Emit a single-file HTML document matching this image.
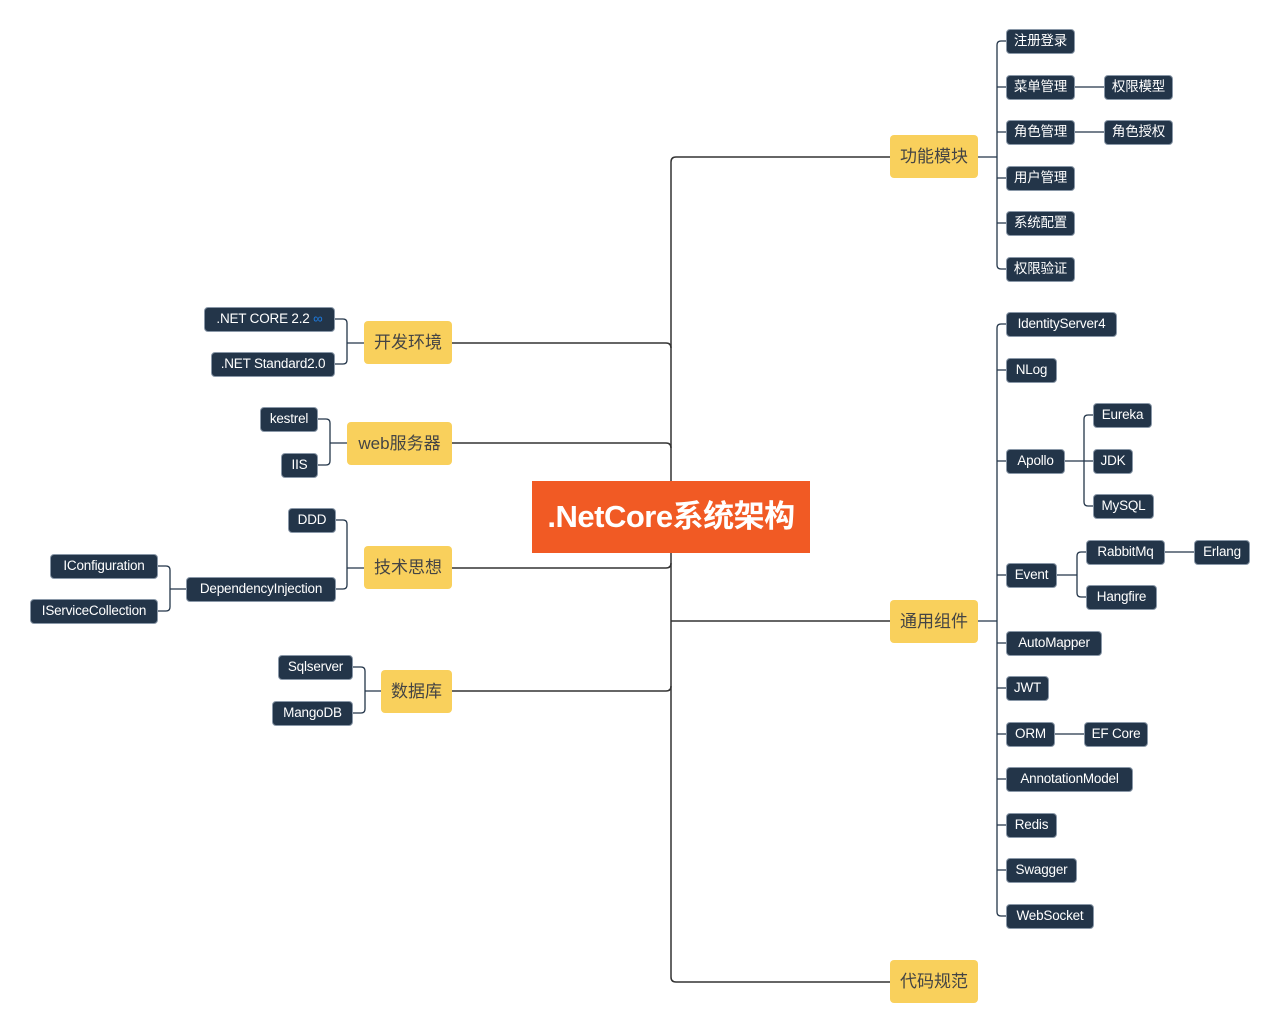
<!DOCTYPE html>
<html><head><meta charset="utf-8"><style>
body{margin:0;width:1281px;height:1034px;background:#fff;position:relative;overflow:hidden;font-family:"Liberation Sans","Noto Sans CJK SC",sans-serif}
.d{position:absolute;height:25px;line-height:22px;background:#233549;color:#fff;font-size:13.5px;text-align:center;border-radius:4px;white-space:nowrap;box-sizing:border-box;border:1px solid #8a98a8;letter-spacing:-0.2px}
.y{position:absolute;height:43px;line-height:43px;background:#f9d05c;color:#444;font-size:17px;text-align:center;border-radius:4px;white-space:nowrap}
.c{position:absolute;left:532px;top:481px;width:278px;height:72px;line-height:72px;background:#f15a24;color:#fff;font-size:31px;font-weight:bold;text-align:center;letter-spacing:-0.5px}
svg{position:absolute;left:0;top:0}
</style></head><body>
<svg width="1281" height="1034" fill="none">
<g stroke="#333" stroke-width="1.5">
<path d="M890 157H676Q671 157 671 162V977Q671 982 676 982H890"/>
<path d="M671 621H890"/>
<path d="M452 343H666Q671 343 671 348"/>
<path d="M452 443H666Q671 443 671 448"/>
<path d="M452 568H666Q671 568 671 563"/>
<path d="M452 691H666Q671 691 671 686"/>
</g>
<g stroke="#233549" stroke-width="1.3">
<path d="M978 157H997M1006 41H1001Q997 41 997 45V265Q997 269 1001 269H1006M997 87H1006M997 132H1006M997 178H1006M997 223H1006"/>
<path d="M1075 87H1104M1075 132H1104"/>
<path d="M978 621H997M1006 324H1001Q997 324 997 328V912Q997 916 1001 916H1006M997 370H1006M997 461H1006M997 575H1006M997 643H1006M997 688H1006M997 734H1006M997 779H1006M997 825H1006M997 870H1006"/>
<path d="M1065 461H1084M1093 415H1088Q1084 415 1084 419V502Q1084 506 1088 506H1093M1084 461H1093"/>
<path d="M1057 575H1077M1086 552H1081Q1077 552 1077 556V593Q1077 597 1081 597H1086"/>
<path d="M1165 552H1194M1055 734H1084"/>
<path d="M364 343H347M335 319H343Q347 319 347 323V360Q347 364 343 364H335"/>
<path d="M347 443H330M318 419H326Q330 419 330 423V461Q330 465 326 465H318"/>
<path d="M364 568H347M336 520H343Q347 520 347 524V585Q347 589 343 589H336"/>
<path d="M186 589H170M158 566H166Q170 566 170 570V607Q170 611 166 611H158"/>
<path d="M381 691H365M353 667H361Q365 667 365 671V709Q365 713 361 713H353"/>
</g>
</svg>
<div class="c">.NetCore系统架构</div>
<div class="y" style="left:890px;top:135px;width:88px">功能模块</div>
<div class="y" style="left:890px;top:600px;width:88px">通用组件</div>
<div class="y" style="left:890px;top:960px;width:88px">代码规范</div>
<div class="y" style="left:364px;top:321px;width:88px">开发环境</div>
<div class="y" style="left:347px;top:422px;width:105px">web服务器</div>
<div class="y" style="left:364px;top:546px;width:88px">技术思想</div>
<div class="y" style="left:381px;top:670px;width:71px">数据库</div>

<div class="d" style="left:1006px;top:29px;width:69px">注册登录</div>
<div class="d" style="left:1006px;top:75px;width:69px">菜单管理</div>
<div class="d" style="left:1006px;top:120px;width:69px">角色管理</div>
<div class="d" style="left:1006px;top:166px;width:69px">用户管理</div>
<div class="d" style="left:1006px;top:211px;width:69px">系统配置</div>
<div class="d" style="left:1006px;top:257px;width:69px">权限验证</div>
<div class="d" style="left:1104px;top:75px;width:69px">权限模型</div>
<div class="d" style="left:1104px;top:120px;width:69px">角色授权</div>

<div class="d" style="left:1006px;top:312px;width:111px">IdentityServer4</div>
<div class="d" style="left:1006px;top:358px;width:51px">NLog</div>
<div class="d" style="left:1006px;top:449px;width:59px">Apollo</div>
<div class="d" style="left:1093px;top:403px;width:59px">Eureka</div>
<div class="d" style="left:1093px;top:449px;width:40px">JDK</div>
<div class="d" style="left:1093px;top:494px;width:61px">MySQL</div>
<div class="d" style="left:1006px;top:563px;width:51px">Event</div>
<div class="d" style="left:1086px;top:540px;width:79px">RabbitMq</div>
<div class="d" style="left:1194px;top:540px;width:56px">Erlang</div>
<div class="d" style="left:1086px;top:585px;width:71px">Hangfire</div>
<div class="d" style="left:1006px;top:631px;width:96px">AutoMapper</div>
<div class="d" style="left:1006px;top:676px;width:43px">JWT</div>
<div class="d" style="left:1006px;top:722px;width:49px">ORM</div>
<div class="d" style="left:1084px;top:722px;width:64px">EF Core</div>
<div class="d" style="left:1006px;top:767px;width:127px">AnnotationModel</div>
<div class="d" style="left:1006px;top:813px;width:51px">Redis</div>
<div class="d" style="left:1006px;top:858px;width:71px">Swagger</div>
<div class="d" style="left:1006px;top:904px;width:88px">WebSocket</div>

<div class="d" style="left:204px;top:307px;width:131px">.NET CORE 2.2 <span style="color:#1e7be0">∞</span></div>
<div class="d" style="left:211px;top:352px;width:124px">.NET Standard2.0</div>
<div class="d" style="left:260px;top:407px;width:58px">kestrel</div>
<div class="d" style="left:281px;top:453px;width:37px">IIS</div>
<div class="d" style="left:288px;top:508px;width:48px">DDD</div>
<div class="d" style="left:186px;top:577px;width:150px">DependencyInjection</div>
<div class="d" style="left:50px;top:554px;width:108px">IConfiguration</div>
<div class="d" style="left:30px;top:599px;width:128px">IServiceCollection</div>
<div class="d" style="left:278px;top:655px;width:75px">Sqlserver</div>
<div class="d" style="left:272px;top:701px;width:81px">MangoDB</div>
</body></html>
